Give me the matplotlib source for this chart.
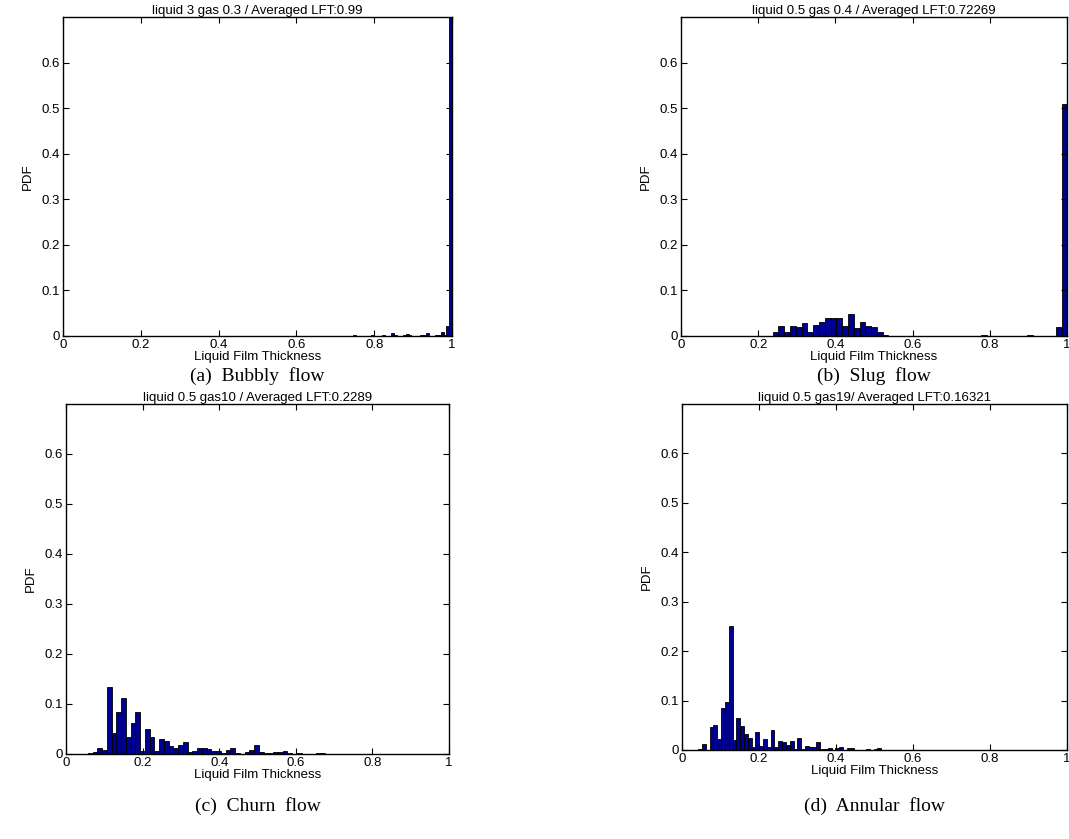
import numpy as np
import matplotlib
matplotlib.use("Agg")
import matplotlib.pyplot as plt

plt.rcParams['font.family'] = ['Liberation Sans', 'DejaVu Sans']

# histogram heights (PDF) per flow regime, bins of equal width starting at x0
titles = ["liquid 3 gas 0.3 / Averaged LFT:0.99",
          "liquid 0.5 gas 0.4 / Averaged LFT:0.72269",
          "liquid 0.5 gas10 / Averaged LFT:0.2289",
          "liquid 0.5 gas19/ Averaged LFT:0.16321"]
captions = ["(a)  Bubbly  flow", "(b)  Slug  flow", "(c)  Churn  flow", "(d)  Annular  flow"]

bubbly_x0, bubbly_w = 0.5995, 0.0075
bubbly_pdf = [0.0005, 0, 0.0005, 0, 0, 0.0005, 0.0005, 0, 0.0005, 0.001,
              0, 0.0005, 0.001, 0.0005, 0, 0.001, 0.0005, 0.001, 0.0005, 0.0005,
              0.002, 0.001, 0.0005, 0.001, 0.001, 0.0005, 0.003, 0.001, 0.0005, 0.001,
              0.002, 0.001, 0.0005, 0.007, 0.003, 0.001, 0.001, 0.002, 0.005, 0.003,
              0.001, 0.001, 0.001, 0.002, 0.002, 0.006, 0.001, 0.001, 0.002, 0.002,
              0.008, 0.002, 0.022, 0.92]

slug_x0, slug_w = 0.245, 0.015
slug_pdf = [0.0095, 0.021, 0.008, 0.021, 0.020, 0.029, 0.0095, 0.025, 0.031, 0.039,
            0.040, 0.040, 0.023, 0.048, 0.017, 0.030, 0.022, 0.019, 0.008, 0.003,
            0.001, 0.0005, 0, 0.001, 0.001, 0.001, 0.0005, 0, 0.0005, 0,
            0, 0, 0.0005, 0, 0, 0, 0.002, 0, 0.0005, 0,
            0, 0, 0, 0.0005, 0.002, 0, 0.0005, 0, 0.001, 0.020,
            0.51]

churn_x0, churn_w = 0.0512, 0.0124
churn_pdf = [0.0005, 0.002, 0.005, 0.013, 0.009, 0.135, 0.042, 0.084, 0.113, 0.034,
             0.0625, 0.084, 0.007, 0.051, 0.034, 0.006, 0.030, 0.027, 0.016, 0.013,
             0.018, 0.025, 0.005, 0.007, 0.013, 0.013, 0.011, 0.007, 0.007, 0.003,
             0.009, 0.013, 0.003, 0.001, 0.005, 0.009, 0.018, 0.004, 0.003, 0.003,
             0.005, 0.005, 0.007, 0.002, 0.001, 0.003, 0.001, 0.0005, 0.001, 0.002,
             0.002, 0.0005]

annular_x0, annular_w = 0.0372, 0.0099
annular_pdf = [0.001, 0.002, 0.013, 0, 0.046, 0.051, 0.023, 0.085, 0.097, 0.250,
               0.021, 0.064, 0.048, 0.032, 0.024, 0.006, 0.037, 0.009, 0.023, 0.006,
               0.040, 0.006, 0.019, 0.017, 0.011, 0.019, 0.002, 0.024, 0.002, 0.009,
               0.006, 0.007, 0.017, 0.002, 0.002, 0.004, 0.001, 0.004, 0.006, 0.001,
               0.004, 0.005, 0.001, 0, 0.001, 0.002, 0, 0.002, 0.004]

hists = [(bubbly_x0, bubbly_w, bubbly_pdf),
         (slug_x0, slug_w, slug_pdf),
         (churn_x0, churn_w, churn_pdf),
         (annular_x0, annular_w, annular_pdf)]

W, H = 1069, 839
fig = plt.figure(figsize=(W / 100, H / 100), dpi=100)

# axes boxes in pixels: left, right, top, bottom
boxes = [(63, 452, 17, 336), (681, 1067, 17, 336),
         (66, 449, 404, 754), (682, 1067, 404, 750)]
cap_y = [376, 376, 806, 806]

for i, (x0, w, pdf) in enumerate(hists):
    l, r, t, b = boxes[i]
    ax = fig.add_axes([l / W, 1 - b / H, (r - l) / W, (b - t) / H])
    pdf = np.array(pdf)
    centers = x0 + w * np.arange(len(pdf))
    ax.bar(centers, pdf, width=w, color='#000090', edgecolor='black', linewidth=0.6)
    ax.set_xlim(0, 1)
    ax.set_ylim(0, 0.7)
    ax.set_xticks([0, 0.2, 0.4, 0.6, 0.8, 1])
    ax.set_xticklabels(['0', '0.2', '0.4', '0.6', '0.8', '1'])
    ax.set_yticks([0, 0.1, 0.2, 0.3, 0.4, 0.5, 0.6])
    ax.set_yticklabels(['0', '0.1', '0.2', '0.3', '0.4', '0.5', '0.6'])
    ax.tick_params(direction='in', length=4, width=0.8, top=True, right=True,
                   labelsize=9.5)
    ax.tick_params(axis='x', pad=2)
    ax.tick_params(axis='y', pad=2)
    for s in ax.spines.values():
        s.set_linewidth(1.0)
    ax.set_title(titles[i], fontsize=9.5, pad=2)
    ax.set_xlabel('Liquid Film Thickness', fontsize=9.5, labelpad=0)
    ax.set_ylabel('PDF', fontsize=9.5, labelpad=6)
    fig.text((l + r) / 2 / W, 1 - cap_y[i] / H, captions[i], ha='center', va='center',
             fontsize=14, family='Liberation Serif')

fig.savefig('out.png', dpi=100)
